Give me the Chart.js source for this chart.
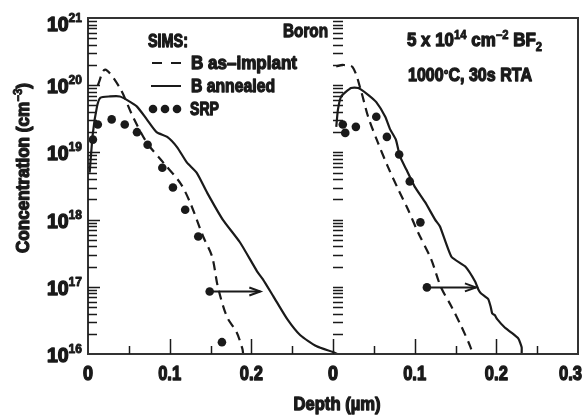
<!DOCTYPE html>
<html>
<head>
<meta charset="utf-8">
<script src="https://cdn.jsdelivr.net/npm/chart.js@4.4.1/dist/chart.umd.min.js"></script>
<style>
  html, body { margin: 0; padding: 0; background: #fff; }
  #wrap { width: 584px; height: 416px; }
</style>
</head>
<body>
<div id="wrap"><canvas id="profile" width="584" height="416"></canvas></div>
<script>
// depth in um, concentration in cm^-3
// left panel (Boron implant)
const leftImplantDepth = [0.012, 0.021, 0.039, 0.055, 0.072, 0.092, 0.113, 0.125, 0.141, 0.152, 0.159, 0.170, 0.182, 0.189, 0.190];
const leftImplantConc  = [1.0e20, 1.7e20, 9.1e19, 3.4e19, 1.4e19, 7.1e18, 3.5e18, 1.8e18, 5.6e17, 2.8e17, 1.0e17, 3.6e16, 2.1e16, 1.2e16, 1.0e16];

const leftAnnealDepth = [0.002, 0.006, 0.011, 0.015, 0.027, 0.039, 0.048, 0.060, 0.072, 0.084, 0.097, 0.109, 0.121, 0.133, 0.146, 0.165, 0.186, 0.207, 0.214, 0.227, 0.244, 0.260, 0.280, 0.300, 0.305];
const leftAnnealConc  = [5.0e18, 1.95e19, 4.8e19, 6.5e19, 6.8e19, 6.8e19, 6.0e19, 4.8e19, 3.1e19, 2.0e19, 1.7e19, 1.2e19, 7.1e18, 5.0e18, 2.5e18, 1.0e18, 4.6e17, 1.7e17, 1.3e17, 7.2e16, 3.3e16, 1.9e16, 1.3e16, 1.07e16, 1.0e16];

const leftSrpDepth = [0.006, 0.012, 0.029, 0.045, 0.060, 0.073, 0.091, 0.104, 0.119, 0.135, 0.149, 0.164];
const leftSrpConc  = [1.55e19, 2.6e19, 3.1e19, 2.6e19, 2.0e19, 1.3e19, 5.9e18, 3.0e18, 1.4e18, 5.6e17, 8.5e16, 1.5e16];

// right panel (BF2 implant)
const rightImplantDepth = [0.004, 0.012, 0.024, 0.034, 0.043, 0.055, 0.067, 0.080, 0.092, 0.104, 0.120, 0.132, 0.145, 0.157, 0.168, 0.171];
const rightImplantConc  = [1.9e20, 2.0e20, 1.86e20, 8.5e19, 3.4e19, 1.4e19, 6.2e18, 2.8e18, 1.4e18, 6.5e17, 2.6e17, 1.0e17, 5.1e16, 2.6e16, 1.3e16, 1.0e16];

const rightAnnealDepth = [0.004, 0.006, 0.010, 0.022, 0.031, 0.043, 0.053, 0.064, 0.070, 0.077, 0.082, 0.090, 0.100, 0.113, 0.125, 0.131, 0.145, 0.162, 0.174, 0.178, 0.181, 0.186, 0.190, 0.193, 0.195, 0.198, 0.201, 0.210, 0.218, 0.227, 0.231, 0.231];
const rightAnnealConc  = [2.4e19, 4.3e19, 6.8e19, 9.1e19, 9.1e19, 7.2e19, 5.6e19, 3.4e19, 2.2e19, 1.55e19, 8.7e18, 5.5e18, 3.1e18, 1.8e18, 1.0e18, 7.9e17, 2.8e17, 2.0e17, 1.2e17, 9.1e16, 8.0e16, 7.2e16, 6.6e16, 5.1e16, 4.0e16, 3.8e16, 3.3e16, 2.5e16, 2.1e16, 1.7e16, 1.26e16, 1.0e16];

const rightSrpDepth = [0.012, 0.015, 0.028, 0.053, 0.066, 0.081, 0.094, 0.107, 0.115];
const rightSrpConc  = [2.6e19, 1.95e19, 2.4e19, 3.4e19, 1.7e19, 9.3e18, 3.7e18, 9.1e17, 9.8e16];

// diffusion-shift arrows: [start depth, end depth], concentration
const leftArrowDepth = [0.151, 0.211];
const leftArrowConc  = [8.5e16, 8.5e16];
const rightArrowDepth = [0.115, 0.175];
const rightArrowConc  = [9.8e16, 9.8e16];

const PANEL_SHIFT = 0.3; // right panel's depth origin sits at 0.3 on the shared axis
const xTickValues = [0, 0.1, 0.2, 0.3, 0.4, 0.5, 0.6];
const xTickLabels = ["0", "0.1", "0.2", "0", "0.1", "0.2", "0.3"];
const yDecades = [16, 17, 18, 19, 20, 21];

const INK = "#1a1a1a";
const FONT = "'Liberation Sans', Arial, 'Helvetica', sans-serif";
const font = size => "bold " + size + "px " + FONT;

function pts(depth, conc, shift) {
  return depth.map((d, i) => ({ x: d + shift, y: conc[i] }));
}

function runWidth(ctx, parts) {
  let w = 0;
  parts.forEach(([t, size]) => { ctx.font = font(size); w += ctx.measureText(t).width; });
  return w;
}

// draws pieces [text, size, dy] on one baseline, squeezed to a width if given
// (the scan uses a heavy condensed face, so glyphs get an extra stroke)
function text(ctx, parts, x, y, width, align) {
  const natural = runWidth(ctx, parts);
  const sx = width ? width / natural : 1;
  const total = natural * sx;
  let x0 = x;
  if (align === "center") x0 = x - total / 2;
  else if (align === "right") x0 = x - total;
  ctx.save();
  ctx.textAlign = "left";
  ctx.textBaseline = "alphabetic";
  ctx.lineJoin = "round";
  ctx.translate(x0, y);
  ctx.scale(sx, 1);
  let cx = 0;
  parts.forEach(([t, size, dy]) => {
    ctx.font = font(size);
    ctx.lineWidth = size * 0.07;
    ctx.fillText(t, cx, dy || 0);
    ctx.strokeText(t, cx, dy || 0);
    cx += ctx.measureText(t).width;
  });
  ctx.restore();
}

const figurePlugin = {
  id: "figure",
  afterDraw(chart) {
    const ctx = chart.ctx;
    const xs = chart.scales.x, ys = chart.scales.y;
    const a = chart.chartArea;
    ctx.save();
    ctx.strokeStyle = INK;
    ctx.fillStyle = INK;

    // frame
    ctx.lineWidth = 2;
    ctx.strokeStyle = "#333";
    ctx.strokeRect(a.left, a.top, a.right - a.left, a.bottom - a.top);
    ctx.strokeStyle = INK;

    // y ticks on the left axis and on the middle (right panel) axis
    ctx.lineWidth = 1.3;
    const midX = xs.getPixelForValue(PANEL_SHIFT);
    for (let d = 16; d <= 20; d++) {
      for (let m = 1; m <= 9; m++) {
        if (d === 16 && m === 1) continue;
        const y = Math.round(ys.getPixelForValue(m * Math.pow(10, d))) + 0.5;
        const len = m === 1 ? 12 : 9;
        ctx.beginPath();
        ctx.moveTo(a.left, y); ctx.lineTo(a.left + len, y);
        ctx.moveTo(midX, y); ctx.lineTo(midX + 10, y);
        ctx.stroke();
      }
    }

    // x ticks, pointing up
    ctx.lineWidth = 1.5;
    for (let k = 1; k <= 11; k++) {
      const x = Math.round(xs.getPixelForValue(k * 0.05)) + 0.5;
      const len = k % 2 === 0 ? 15 : 8;
      ctx.beginPath();
      ctx.moveTo(x, a.bottom); ctx.lineTo(x, a.bottom - len);
      ctx.stroke();
    }

    // arrow heads
    ctx.lineWidth = 2;
    [[leftArrowDepth, leftArrowConc, 0], [rightArrowDepth, rightArrowConc, PANEL_SHIFT]].forEach(([dp, cc, s]) => {
      const xe = xs.getPixelForValue(dp[1] + s), ye = ys.getPixelForValue(cc[1]);
      ctx.beginPath();
      ctx.moveTo(xe - 11, ye - 4); ctx.lineTo(xe, ye); ctx.lineTo(xe - 11, ye + 4);
      ctx.stroke();
    });

    // y tick labels 10^n
    yDecades.forEach(n => {
      const y = ys.getPixelForValue(Math.pow(10, n));
      const yy = n === 21 ? y + 5 : y;
      text(ctx, [["10", 21, 8], [String(n), 13, -1]], 47, yy, 35);
    });

    // x tick labels
    xTickValues.forEach((v, i) => {
      const x = xs.getPixelForValue(v);
      const last = i === xTickValues.length - 1;
      const w = xTickLabels[i].length === 1 ? 10 : 23;
      text(ctx, [[xTickLabels[i], 21, 0]], last ? 582 : x, 380, w, last ? "right" : "center");
    });

    // axis titles
    text(ctx, [["Depth (\u00b5m)", 18, 0]], 337, 410, 87, "center");
    ctx.save();
    ctx.translate(23, 168);
    ctx.rotate(-Math.PI / 2);
    text(ctx, [["Concentration (cm", 18, 0], ["\u22123", 12, -7], [")", 18, 0]], 0, 6, 170, "center");
    ctx.restore();

    // legend
    text(ctx, [["SIMS:", 18, 0]], 148, 47, 40);
    text(ctx, [["B as\u2013implant", 18, 0]], 191, 69, 106);
    text(ctx, [["B annealed", 18, 0]], 191, 92, 84);
    text(ctx, [["SRP", 18, 0]], 190, 115, 29);
    ctx.lineWidth = 2;
    ctx.setLineDash([10, 9]);
    ctx.beginPath(); ctx.moveTo(152, 63); ctx.lineTo(182, 63); ctx.stroke();
    ctx.setLineDash([]);
    ctx.beginPath(); ctx.moveTo(151, 86); ctx.lineTo(181, 86); ctx.stroke();
    [153, 165, 177].forEach(x => { ctx.beginPath(); ctx.arc(x, 109, 4.3, 0, Math.PI * 2); ctx.fill(); });

    // annotations
    text(ctx, [["Boron", 18, 0]], 283, 37, 45);
    text(ctx, [["5 x 10", 18, 0], ["14", 12, -7], [" cm", 18, 0], ["\u22122", 12, -7], [" BF", 18, 0], ["2", 12, 5]], 407, 46, 135);
    text(ctx, [["1000", 18, 0], ["\u00b0", 13, -2], ["C, 30s RTA", 18, 0]], 408, 81, 124);

    ctx.restore();
  }
};

const lineStyle = { showLine: true, pointRadius: 0, borderColor: INK, borderWidth: 2.2, fill: false };
const dotStyle = { showLine: false, pointRadius: 4.3, pointHoverRadius: 4.3, backgroundColor: INK, borderColor: INK, borderWidth: 0 };

new Chart(document.getElementById("profile"), {
  type: "scatter",
  data: {
    datasets: [
      { ...lineStyle, label: "arrow L", data: pts(leftArrowDepth, leftArrowConc, 0), borderWidth: 2 },
      { ...lineStyle, label: "arrow R", data: pts(rightArrowDepth, rightArrowConc, PANEL_SHIFT), borderWidth: 2 },
      { ...lineStyle, label: "B as-implant", data: pts(leftImplantDepth, leftImplantConc, 0), borderDash: [9, 6], tension: 0.3 },
      { ...lineStyle, label: "B as-implant BF2", data: pts(rightImplantDepth, rightImplantConc, PANEL_SHIFT), borderDash: [9, 6], tension: 0.3 },
      { ...lineStyle, label: "B annealed", data: pts(leftAnnealDepth, leftAnnealConc, 0), tension: 0.2 },
      { ...lineStyle, label: "B annealed BF2", data: pts(rightAnnealDepth, rightAnnealConc, PANEL_SHIFT), tension: 0.15 },
      { ...dotStyle, label: "SRP", data: pts(leftSrpDepth, leftSrpConc, 0) },
      { ...dotStyle, label: "SRP BF2", data: pts(rightSrpDepth, rightSrpConc, PANEL_SHIFT) }
    ]
  },
  options: {
    responsive: false,
    animation: false,
    devicePixelRatio: 1,
    layout: { padding: { top: 18, right: 6, left: 0, bottom: 0 } },
    plugins: { legend: { display: false }, tooltip: { enabled: false } },
    scales: {
      x: {
        type: "linear", min: 0, max: 0.6,
        grid: { display: false }, border: { display: false },
        ticks: { display: false },
        afterFit: s => { s.height = 62; }
      },
      y: {
        type: "logarithmic", min: 1e16, max: 1e21,
        grid: { display: false }, border: { display: false },
        ticks: { display: false },
        afterFit: s => { s.width = 88; }
      }
    }
  },
  plugins: [figurePlugin]
});
</script>
</body>
</html>
